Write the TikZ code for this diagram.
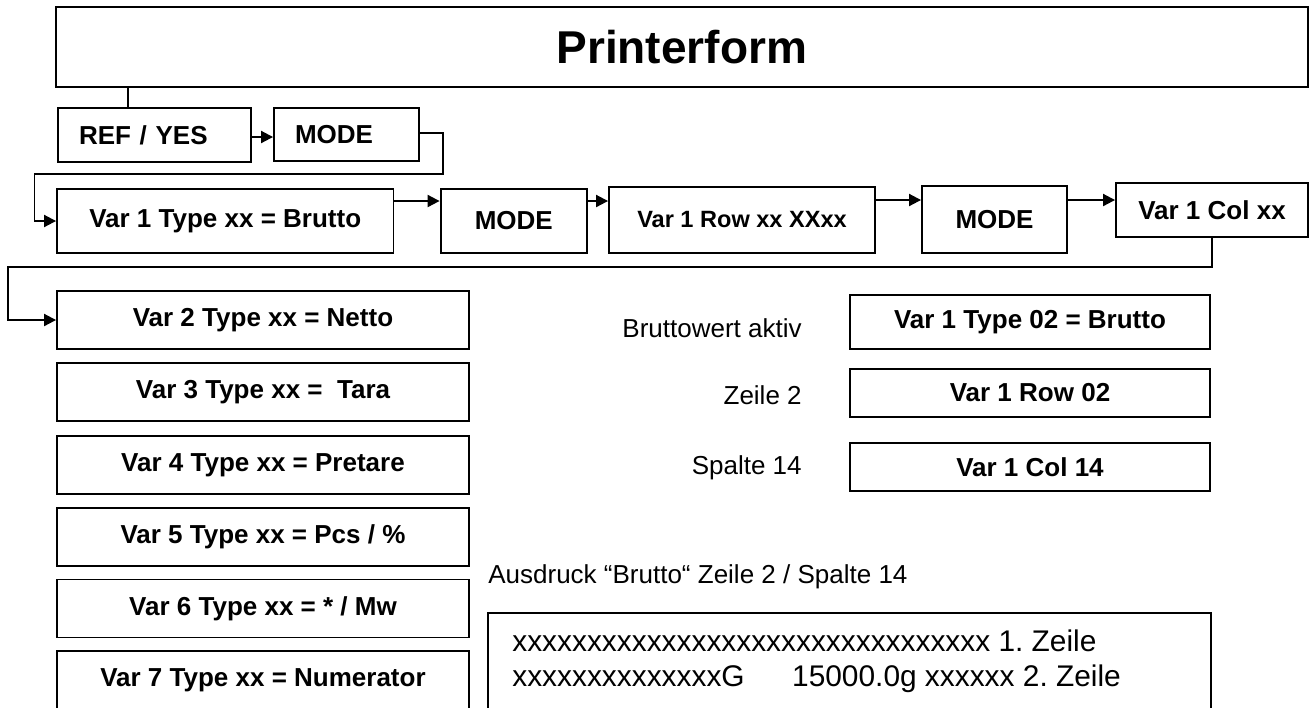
\documentclass[tikz,border=0pt]{standalone}
\usepackage{fontspec}
\setmainfont{Liberation Sans}
\usetikzlibrary{positioning,arrows.meta}
\frenchspacing

\tikzset{
	box/.style={draw, line width=1.1pt, inner sep=0pt, font=\bfseries\fontsize{14.8}{17}\selectfont},
	arr/.style={line width=1.1pt, -{Triangle[length=0.24cm, width=0.24cm]}},
	note/.style={inner sep=0pt, font=\fontsize{14.8}{17}\selectfont},
	printline/.style={inner sep=0pt, anchor=base west, font=\fontsize{17}{20}\selectfont},
}

\begin{document}
\begin{tikzpicture}[x=0.02cm, y=-0.02cm]
	\useasboundingbox (0,0) rectangle (1311,707);
	% header and first menu row
	\node[box, minimum width=25.05cm, minimum height=1.6cm, font=\bfseries\fontsize{26.2}{30}\selectfont] (title) at (681.75,47) {Printerform};
	\node[box, minimum width=3.86cm, minimum height=1.08cm, text width=3.02cm, align=left] (ref) at (154.5,135) {REF / YES};
	\node[box, minimum width=2.9cm, minimum height=1.06cm, text width=2.06cm, align=left] (modea) at (346.5,134.5) {MODE};
	\node[box, minimum width=6.73cm, minimum height=1.28cm] (typea) at (225.25,221) {Var 1 Type xx = Brutto};
	\node[box, minimum width=2.93cm, minimum height=1.28cm] (modeb) at (513.8,221) {MODE};
	\node[box, minimum width=5.32cm, minimum height=1.32cm, font=\bfseries\fontsize{13.4}{16}\selectfont] (rowa) at (742,220) {Var 1 Row xx XXxx};
	\node[box, minimum width=2.9cm, minimum height=1.34cm] (modec) at (994.5,219.5) {MODE};
	\node[box, minimum width=3.84cm, minimum height=1.08cm] (cola) at (1212,210) {Var 1 Col xx};
	% list of variables
	\node[box, minimum width=8.24cm, minimum height=1.16cm] (var2) at (263,320) {Var 2 Type xx = Netto};
	\node[box, minimum width=8.24cm, minimum height=1.16cm] (var3) at (263,392) {Var 3 Type xx = \ Tara};
	\node[box, minimum width=8.24cm, minimum height=1.16cm] (var4) at (263,465) {Var 4 Type xx = Pretare};
	\node[box, minimum width=8.24cm, minimum height=1.16cm] (var5) at (263,537) {Var 5 Type xx = Pcs / \%};
	\node[box, minimum width=8.24cm, minimum height=1.16cm] (var6) at (263,608.5) {Var 6 Type xx = * / Mw};
	\node[box, minimum width=8.24cm, minimum height=1.16cm] (var7) at (263,680) {Var 7 Type xx = Numerator};
	% example settings
	\node[box, minimum width=7.2cm, minimum height=1.08cm] (typeb) at (1030,322) {Var 1 Type 02 = Brutto};
	\node[box, minimum width=7.2cm, minimum height=0.96cm] (rowb) at (1030,393) {Var 1 Row 02};
	\node[box, minimum width=7.2cm, minimum height=0.96cm] (colb) at (1030,467) {Var 1 Col 14};
	\node[note, anchor=east] (notea) at (802,328) {Bruttowert aktiv};
	\node[note, anchor=east] (noteb) at (802,395) {Zeile 2};
	\node[note, anchor=east] (notec) at (802,468) {Spalte 14};
	% printout
	\node[note, anchor=west] (noted) at (488,577) {Ausdruck “Brutto“ Zeile 2 / Spalte 14};
	\node[box, minimum width=14.46cm, minimum height=2.68cm] (out) at (849.5,680) {};
	\node[printline] (linea) at (512,651) {xxxxxxxxxxxxxxxxxxxxxxxxxxxxxxxx 1. Zeile};
	\node[printline] (lineb) at (512,686) {xxxxxxxxxxxxxxG\hspace{0.95cm}15000.0g xxxxxx 2. Zeile};
	% connectors
	\draw[line width=1.1pt] ([xshift=-0.53cm]ref.north) -- ([xshift=-0.53cm]ref.north |- title.south);
	\draw[arr] ([yshift=-0.04cm]ref.east) -- ([yshift=-0.04cm]ref.east -| modea.west);
	\draw[arr] ([yshift=0.03cm]modea.east) -- ++(23,0) |- (34.5,174) |- (typea.west);
	\draw[arr] ([yshift=0.4cm]typea.east) -- ([yshift=0.4cm]typea.east -| modeb.west);
	\draw[arr] ([yshift=0.4cm]modeb.east) -- ([yshift=0.4cm]modeb.east -| rowa.west);
	\draw[arr] ([yshift=0.4cm]rowa.east) -- ([yshift=0.4cm]rowa.east -| modec.west);
	\draw[arr] ([yshift=0.39cm]modec.east) -- ([yshift=0.39cm]modec.east -| cola.west);
	\draw[arr] (cola.south) |- (8.4,267) |- (var2.west);
\end{tikzpicture}
\end{document}
